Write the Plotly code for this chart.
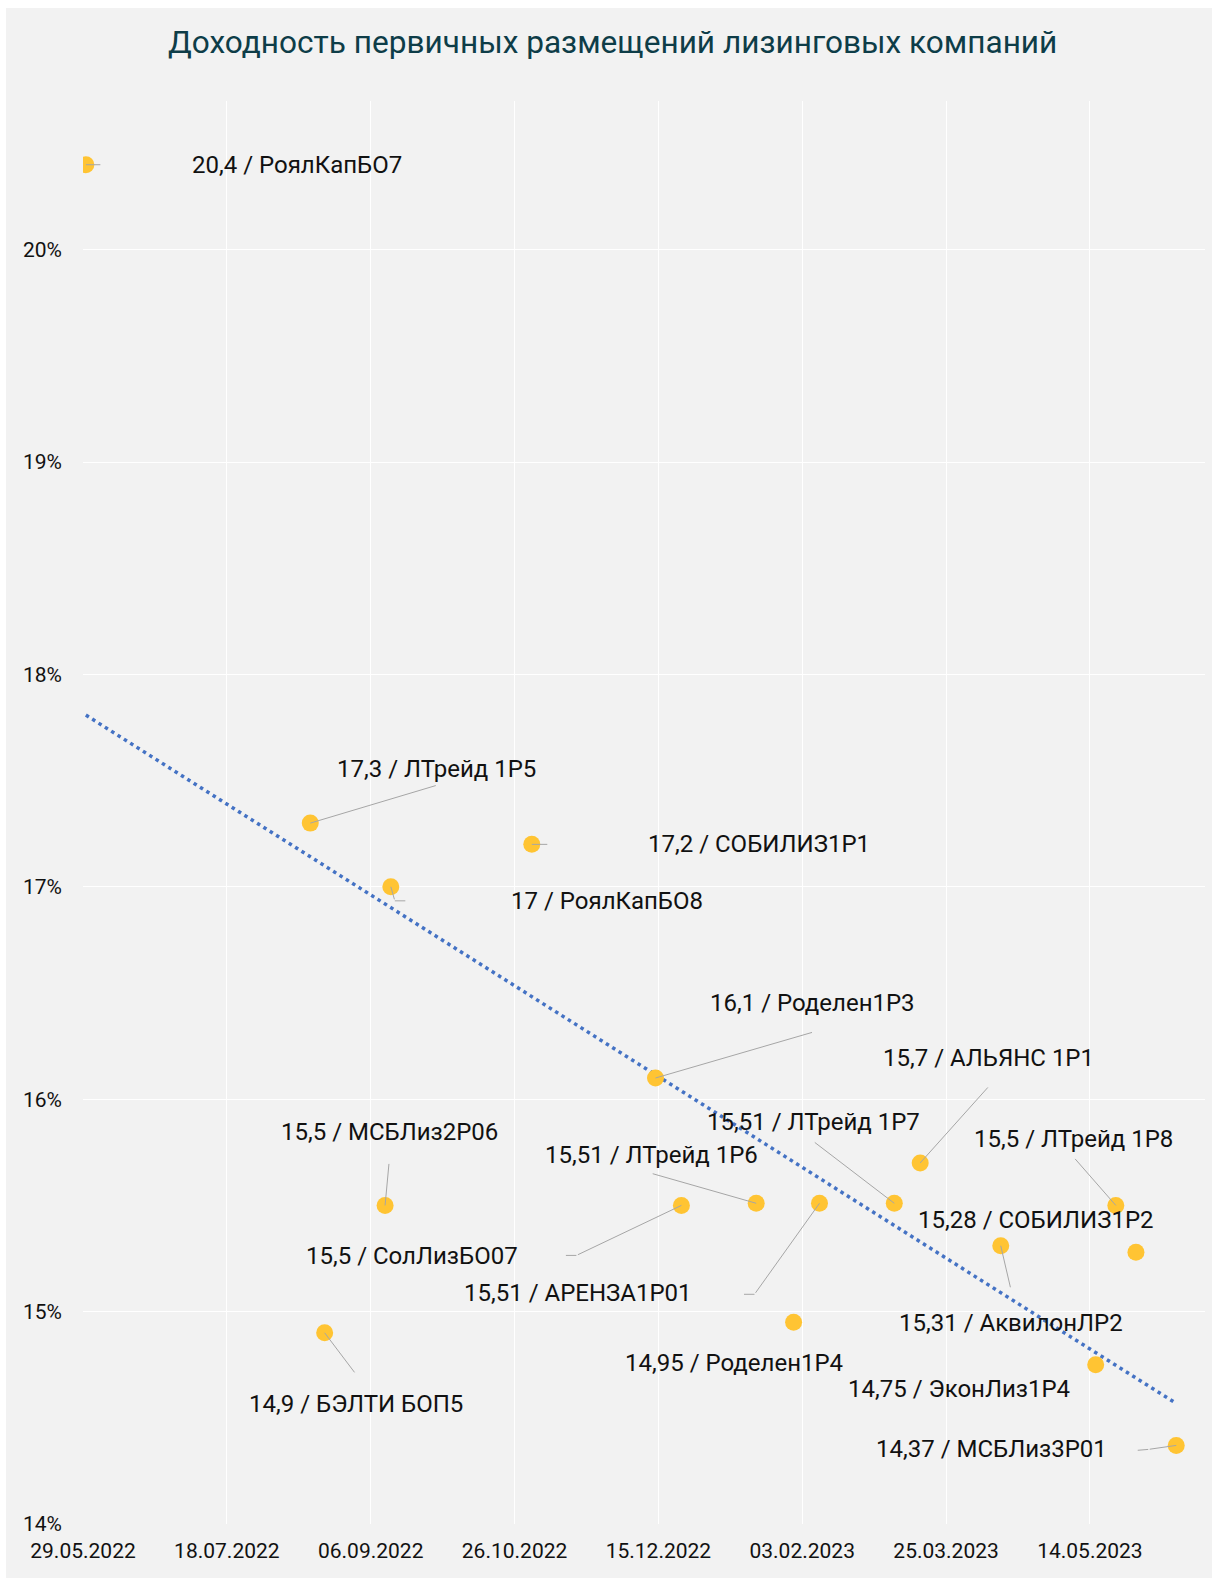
import plotly.graph_objects as go
import pandas as pd
import numpy as np

# ---- data ----
dates = ["2022-05-30", "2022-08-16", "2022-11-01", "2022-09-13", "2022-12-14",
         "2023-03-16", "2023-03-07", "2023-05-23", "2023-01-18", "2022-09-11",
         "2022-12-23", "2023-02-09", "2023-05-30", "2023-04-13", "2023-01-31",
         "2022-08-21", "2023-05-16", "2023-06-13"]
yields = [20.4, 17.3, 17.2, 17.0, 16.1,
          15.7, 15.51, 15.5, 15.51, 15.5,
          15.5, 15.51, 15.28, 15.31, 14.95,
          14.9, 14.75, 14.37]
names = ["РоялКапБО7", "ЛТрейд 1Р5", "СОБИЛИЗ1Р1", "РоялКапБО8", "Роделен1Р3",
         "АЛЬЯНС 1Р1", "ЛТрейд 1Р7", "ЛТрейд 1Р8", "ЛТрейд 1Р6", "МСБЛиз2Р06",
         "СолЛизБО07", "АРЕНЗА1Р01", "СОБИЛИЗ1Р2", "АквилонЛР2", "Роделен1Р4",
         "БЭЛТИ БОП5", "ЭконЛиз1Р4", "МСБЛиз3Р01"]
y_ticks = [14, 15, 16, 17, 18, 19, 20]
y_tick_labels = ["14%", "15%", "16%", "17%", "18%", "19%", "20%"]
title = "Доходность первичных размещений лизинговых компаний"

# ---- layout helpers (pixel offsets of labels / leader lines) ----
label_offsets = [(211, 0), (126, -54), (227, 0), (216, 14), (157, -75),
                 (68, -105), (-81, -81), (-42, -66), (-105, -48), (4, -73),
                 (-269, 51), (-241, 90), (-100, -32), (10, 77), (-60, 41),
                 (31, 71), (-137, 24), (-185, 4)]
leaders = [
    [((0, 0), (16, 0))],
    [((0, 0), (127, -38))],
    [((0, 0), (17, 0))],
    [((0, 0), (4, 14)), ((4, 14), (16, 14))],
    [((0, 0), (158, -46))],
    [((0, 0), (69, -77))],
    [((0, 0), (-81, -62))],
    [((0, 0), (-42, -48))],
    [((0, 0), (-105, -30))],
    [((0, 0), (4, -43))],
    [((0, 0), (-105, 50)), ((-105, 50), (-117, 50))],
    [((0, 0), (-65, 91)), ((-65, 91), (-77, 91))],
    [],
    [((0, 0), (10, 43))],
    [],
    [((0, 0), (31, 41))],
    [],
    [((0, 0), (-28, 4)), ((-28, 4), (-40, 5))],
]

W, H = 1218, 1587
ML, MR, MT, MB = 83, 13, 101, 63
PW, PH = W - ML - MR, H - MT - MB
FONT = "Roboto"

# trend line (least squares over dates)
d = pd.to_datetime(pd.Series(dates))
t0 = d.min()
days = (d - t0).dt.days.values.astype(float)
k, b = np.polyfit(days, np.array(yields), 1)
trend_x = [d.min(), d.max()]
trend_y = [b + k * 0, b + k * days.max()]

fig = go.Figure()
fig.add_trace(go.Scatter(
    x=trend_x, y=trend_y, mode="lines",
    line=dict(color="#4472C4", width=3.5, dash="3.5px,4px"),
    hoverinfo="skip", showlegend=False))
fig.add_trace(go.Scatter(
    x=dates, y=yields, mode="markers",
    marker=dict(color="#FFC433", size=17, line=dict(width=0)),
    showlegend=False))

annotations = []
for i in range(len(dates)):
    for (sx, sy), (ex, ey) in leaders[i]:
        annotations.append(dict(
            x=dates[i], y=yields[i], xref="x", yref="y",
            xshift=sx, yshift=-sy, ax=ex - sx, ay=ey - sy,
            axref="pixel", ayref="pixel",
            text="", showarrow=True, arrowhead=0, arrowwidth=1,
            arrowcolor="#A6A6A6", standoff=0, startstandoff=0))
    dx, dy = label_offsets[i]
    val = f"{yields[i]:g}".replace(".", ",")
    annotations.append(dict(
        x=dates[i], y=yields[i], xref="x", yref="y",
        xshift=dx, yshift=-dy, showarrow=False,
        text=f"{val} / {names[i]}", xanchor="center", yanchor="middle",
        font=dict(family=FONT, size=24, color="#111111")))

fig.update_layout(
    width=W, height=H,
    margin=dict(l=ML, r=MR, t=MT, b=MB),
    paper_bgcolor="white", plot_bgcolor="rgba(0,0,0,0)",
    title=dict(text=title, x=0.503, xref="container", xanchor="center",
               y=1 - 42 / H, yref="container", yanchor="middle",
               font=dict(family=FONT, size=31.6, color="#0E3D48")),
    annotations=annotations,
    shapes=[dict(type="rect", xref="paper", yref="paper", layer="below",
                 x0=(6 - ML) / PW, x1=(1212 - ML) / PW,
                 y0=(H - MB - 1578) / PH, y1=(H - MB - 8) / PH,
                 fillcolor="#F2F2F2", line=dict(width=0))],
    xaxis=dict(type="date", range=["2022-05-29", "2023-06-23"],
               tick0="2022-05-29", dtick=50 * 86400000, tickformat="%d.%m.%Y",
               showgrid=True, gridcolor="white", gridwidth=1, zeroline=False,
               showline=False, ticks="", ticklabelstandoff=12,
               tickfont=dict(family=FONT, size=21, color="#111111")),
    yaxis=dict(range=[14, 20.7], tickvals=y_ticks, ticktext=y_tick_labels,
               showgrid=True, gridcolor="white", gridwidth=1, zeroline=False,
               showline=False, ticks="", ticklabelstandoff=20,
               tickfont=dict(family=FONT, size=21, color="#111111")),
)

fig.write_html("out.html")
